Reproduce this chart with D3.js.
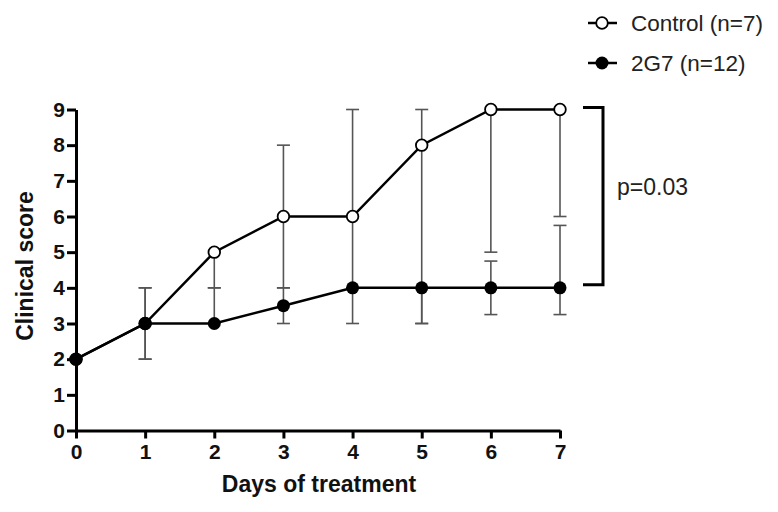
<!DOCTYPE html>
<html>
<head>
<meta charset="utf-8">
<script src="https://cdn.jsdelivr.net/npm/d3@7"></script>
<style>
  body { margin: 0; background: #fff; }
  text { font-family: "Liberation Sans", Arial, sans-serif; }
</style>
</head>
<body>
<div id="chart"></div>
<script>
// Data
var days = [0, 1, 2, 3, 4, 5, 6, 7];
var controlScore = [2, 3, 5, 6, 6, 8, 9, 9];
var controlLow   = [2, 2, 4, 4, 4, 3, 5, 6];
var controlHigh  = [2, 4, 5, 8, 9, 9, 9, 9];
var g2g7Score = [2, 3, 3, 3.5, 4, 4, 4, 4];
var g2g7Low   = [2, 2, 3, 3, 3, 3, 3.25, 3.25];
var g2g7High  = [2, 4, 4, 4, 4, 4, 4.75, 5.75];
var yTicks = [0, 1, 2, 3, 4, 5, 6, 7, 8, 9];
var seriesNames = ["Control (n=7)", "2G7 (n=12)"];
var pLabel = "p=0.03";

var svgWidth = 778;
var svgHeight = 512;

var svg = d3.select("#chart")
    .append("svg")
    .attr("width", svgWidth)
    .attr("height", svgHeight);

var xScale = d3.scaleLinear().domain([0, 7]).range([76, 560]);
var yScale = d3.scaleLinear().domain([0, 9]).range([430.5, 109.5]);

//Build series
function makeSeries(score, low, high) {
    return days.map(function(d, i) {
        return { day: d, v: score[i], lo: low[i], hi: high[i] };
    });
}
var control = makeSeries(controlScore, controlLow, controlHigh);
var g2g7 = makeSeries(g2g7Score, g2g7Low, g2g7High);

//Error bars
var capW = 6.5;
function drawErrors(data) {
    var g = svg.append("g")
        .attr("stroke", "#555")
        .attr("stroke-width", 1.6);
    data.forEach(function(d) {
        var x = xScale(d.day);
        if (d.hi > d.v) {
            g.append("line").attr("x1", x).attr("x2", x)
                .attr("y1", yScale(d.v)).attr("y2", yScale(d.hi));
            g.append("line").attr("x1", x - capW).attr("x2", x + capW)
                .attr("y1", yScale(d.hi)).attr("y2", yScale(d.hi));
        }
        if (d.lo < d.v) {
            g.append("line").attr("x1", x).attr("x2", x)
                .attr("y1", yScale(d.v)).attr("y2", yScale(d.lo));
            g.append("line").attr("x1", x - capW).attr("x2", x + capW)
                .attr("y1", yScale(d.lo)).attr("y2", yScale(d.lo));
        }
    });
}
drawErrors(control);
drawErrors(g2g7);

//Axes
var leftAxis = d3.axisLeft(yScale).tickValues(yTicks).tickFormat(d3.format("d"))
    .tickSize(9).tickSizeOuter(0).tickPadding(2);
var bottomAxis = d3.axisBottom(xScale).tickValues(days).tickFormat(d3.format("d"))
    .tickSize(8).tickSizeOuter(0).tickPadding(6);

var yAxisG = svg.append("g")
    .attr("transform", "translate(" + xScale(0) + ",0)")
    .call(leftAxis);
var xAxisG = svg.append("g")
    .attr("transform", "translate(0," + yScale(0) + ")")
    .call(bottomAxis);

[yAxisG, xAxisG].forEach(function(g) {
    g.selectAll("path, line").attr("stroke", "#000").attr("stroke-width", 3);
    g.selectAll("text")
        .attr("fill", "#111")
        .style("font-family", "'Liberation Sans', Arial, sans-serif")
        .style("font-size", "21px")
        .style("font-weight", "bold");
});

//Lines
var line = d3.line().x(d => xScale(d.day)).y(d => yScale(d.v));
svg.append("path").datum(control)
    .attr("d", line).attr("fill", "none").attr("stroke", "#000").attr("stroke-width", 2.5);
svg.append("path").datum(g2g7)
    .attr("d", line).attr("fill", "none").attr("stroke", "#000").attr("stroke-width", 2.5);

//Markers
svg.selectAll(".ctrl").data(control).enter().append("circle")
    .attr("cx", d => xScale(d.day)).attr("cy", d => yScale(d.v))
    .attr("r", 5.8).attr("fill", "#fff").attr("stroke", "#000").attr("stroke-width", 1.8);
svg.selectAll(".g2").data(g2g7).enter().append("circle")
    .attr("cx", d => xScale(d.day)).attr("cy", d => yScale(d.v))
    .attr("r", 6.5).attr("fill", "#000");

//Significance bracket
var bx = 603;
svg.append("path")
    .attr("d", "M583," + (yScale(9) - 2) + "H" + bx + "V" + (yScale(4) - 3) + "H583")
    .attr("fill", "none").attr("stroke", "#000").attr("stroke-width", 3);
svg.append("text")
    .attr("x", 617).attr("y", 195)
    .style("font-size", "23px").attr("fill", "#222")
    .text(pLabel);

//Legend
var legend = svg.append("g");
[0, 1].forEach(function(i) {
    var cy = 23 + i * 40;
    legend.append("line").attr("x1", 588).attr("x2", 617).attr("y1", cy).attr("y2", cy)
        .attr("stroke", "#000").attr("stroke-width", 2.5);
    if (i === 0) {
        legend.append("circle").attr("cx", 602).attr("cy", cy).attr("r", 5.8)
            .attr("fill", "#fff").attr("stroke", "#000").attr("stroke-width", 1.8);
    } else {
        legend.append("circle").attr("cx", 602).attr("cy", cy).attr("r", 6.5).attr("fill", "#000");
    }
    legend.append("text").attr("x", 631).attr("y", cy + 8)
        .style("font-size", "22.5px").attr("fill", "#222")
        .text(seriesNames[i]);
});

//Axis titles
svg.append("text")
    .attr("transform", "translate(33,266) rotate(-90)")
    .attr("text-anchor", "middle")
    .style("font-size", "23px").style("font-weight", "bold").attr("fill", "#111")
    .text("Clinical score");
svg.append("text")
    .attr("x", 319).attr("y", 492)
    .attr("text-anchor", "middle")
    .style("font-size", "23px").style("font-weight", "bold").attr("fill", "#111")
    .text("Days of treatment");
</script>
</body>
</html>
